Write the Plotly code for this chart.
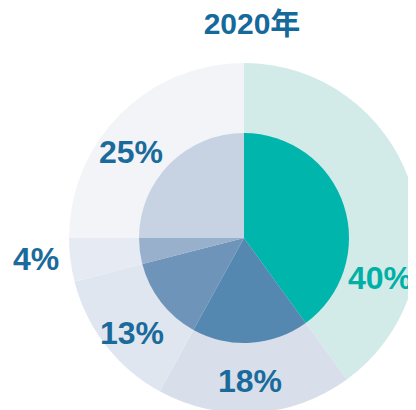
import plotly.graph_objects as go

categories = ["A", "B", "C", "D", "E"]
values = [40, 18, 13, 4, 25]
text_labels = ["40%", "18%", "13%", "4%", "25%"]
inner_colors = ["#00b5ab", "#5588b0", "#6f94b9", "#98b0cc", "#c7d3e3"]
outer_colors = ["#d3ebe8", "#d8dfea", "#e0e6ef", "#e6ebf3", "#f2f4f8"]
label_colors = ["#00b0a6", "#1a6b9c", "#1a6b9c", "#1a6b9c", "#1a6b9c"]
title_text = "2020年"

# layout (pixel positions on the page; page body has an 8px margin)
W, H = 416, 410
OFF = 8
cx, cy = 244 - OFF, 238 - OFF
r_out, r_in = 175, 105
label_pos = [(380, 278), (250, 381), (132, 333), (36, 259), (131, 152)]

def dom(r):
    return dict(x=[(cx - r) / W, (cx + r) / W],
                y=[(H - cy - r) / H, (H - cy + r) / H])

fig = go.Figure()
fig.add_trace(go.Pie(
    labels=categories, values=values, sort=False, direction="clockwise", rotation=0,
    marker=dict(colors=outer_colors, line=dict(width=0)),
    textinfo="none", domain=dom(r_out), hoverinfo="none", showlegend=False,
))
fig.add_trace(go.Pie(
    labels=categories, values=values, sort=False, direction="clockwise", rotation=0,
    marker=dict(colors=inner_colors, line=dict(width=0)),
    textinfo="none", domain=dom(r_in), hoverinfo="none", showlegend=False,
))
for txt, col, (sx, sy) in zip(text_labels, label_colors, label_pos):
    fig.add_annotation(
        text=txt, xref="paper", yref="paper",
        x=(sx - OFF) / W, y=1 - (sy - OFF) / H, xanchor="center", yanchor="middle",
        showarrow=False,
        font=dict(family="Liberation Sans, Arial, sans-serif", size=32, color=col, weight="bold"),
    )
fig.update_layout(
    width=W, height=H,
    margin=dict(l=0, r=0, t=0, b=0),
    paper_bgcolor="white", plot_bgcolor="white",
    title=dict(text=title_text, x=(252 - OFF) / W, xanchor="center", y=1 - (23 - OFF) / H, yanchor="middle",
               font=dict(family="Liberation Sans, Noto Sans CJK SC, sans-serif", size=30, color="#15699b", weight="bold")),
)
fig.write_html("out.html")
